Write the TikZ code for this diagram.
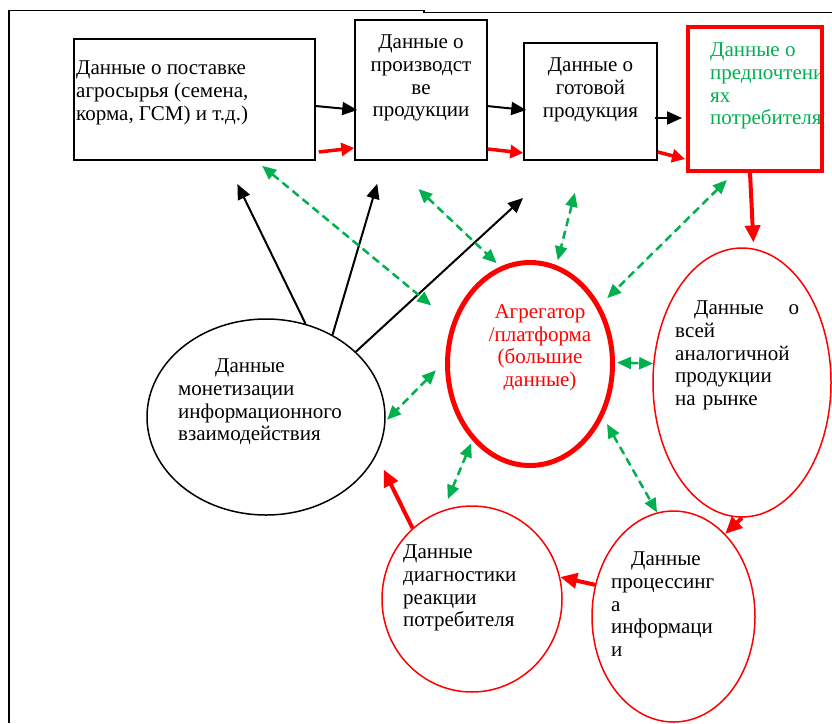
\documentclass[tikz,border=0pt]{standalone}
\usepackage{fontspec}
\setmainfont{Liberation Serif}
\usetikzlibrary{arrows.meta, positioning, shapes.geometric, calc}
\definecolor{wgreen}{RGB}{0,176,80}
\tikzset{
  databox/.style={draw, rectangle, line width=1.5pt, inner sep=0pt}, % black data boxes
  focusbox/.style={databox, draw=red, line width=4pt}, % box of the consumer
  dataell/.style={draw, ellipse, line width=1.5pt, inner sep=0pt}, % thin ellipses
  hubell/.style={dataell, draw=red, line width=5pt}, % the platform
  txt/.style={inner sep=0pt, font=\fontsize{21}{22.6}\selectfont}, % texts of the scheme
  flowarr/.style={-{Triangle[length=15pt,width=13pt]}, line width=2pt}, % black arrows
  redarr/.style={-{Triangle[length=13pt,width=13pt]}, draw=red, fill=red, line width=3.5pt}, % small red arrows
  bigred/.style={-{Triangle[length=17pt,width=15pt]}, draw=red, fill=red, line width=4pt}, % big red arrows
  linkarr/.style={{Triangle[length=14pt,width=12pt]}-{Triangle[length=14pt,width=12pt]}, draw=wgreen, fill=wgreen, line width=2.5pt, dash pattern=on 8pt off 5pt}, % data exchange
}
\begin{document}
\begin{tikzpicture}[x=1pt, y=-1pt]
		\useasboundingbox (0,0) rectangle (832,723);
		\draw [line width=1.6pt] (9,723) -- (9,10.5) -- (424,10.5) -- (424,12.5) -- (832,12.5);

		% top row
		\node [databox, minimum width=241pt, minimum height=121pt] (supply) at (194.5,99.5) {};
		\node [databox, minimum width=132pt, minimum height=140pt] (prod) at (421,90) {};
		\node [databox, minimum width=133pt, minimum height=117pt] (ready) at (590.5,101.5) {};

		\node [txt, anchor=north west, align=left] (supplyt) at (76,61) {Данные о поставке\\агросырья (семена,\\корма, ГСМ) и т.д.)};
		\node [txt, anchor=north, align=center] (prodt) at (421,35) {Данные о\\производст\\ве\\продукции};
		\node [txt, anchor=north, align=center] (readyt) at (590.5,58) {Данные о\\готовой\\продукция};
		\begin{scope}
			\clip (688,27) rectangle (821,171);
			\node [txt, anchor=north west, align=left, text=wgreen] (preft) at (710,43) {Данные о\\предпочтени\\ях\\потребителя};
		\end{scope}
		\node [focusbox, minimum width=134pt, minimum height=144pt] (pref) at (755,99) {};

		% ellipses
		\node [dataell, minimum width=238pt, minimum height=196pt] (mon) at (266,417) {};
		\node [hubell, minimum width=165pt, minimum height=203pt] (hub) at (530,364) {};
		\node [dataell, draw=red, minimum width=178pt, minimum height=269pt] (mkt) at (742,382.5) {};
		\node [dataell, draw=red, minimum width=163pt, minimum height=211pt] (proc) at (673.5,616.5) {};
		\node [dataell, draw=red, minimum width=180pt, minimum height=186pt] (diag) at (472,599) {};

		\node [txt, anchor=north west, align=left] (mont) at (178,359) {\hspace*{37pt}Данные\\монетизации\\информационного\\взаимодействия};
		\node [txt, anchor=north, align=center, text=red] (hubt) at (540,304.5) {Агрегатор\\/платформа\\(большие\\данные)};
		\node [txt, anchor=north west, align=left, text width=124pt] (mktt) at (675,301) {\hspace*{19pt}Данные\hfill о\\всей\\аналогичной\\продукции\\на рынке};
		\node [txt, anchor=north west, align=left] (proct) at (611,552) {\hspace*{20pt}Данные\\процессинг\\а\\информаци\\и};
		\node [txt, anchor=north west, align=left] (diagt) at (403,545) {Данные\\диагностики\\реакции\\потребителя};

		% arrows of the chain
		\draw [flowarr] ([yshift=-6.5pt]supply.east) -- ([xshift=3pt, yshift=-20pt]prod.west);
		\draw [redarr] ([xshift=3pt, yshift=-52.5pt]supply.east) -- ([yshift=-58pt]prod.west);
		\draw [flowarr] ([xshift=-1pt, yshift=-16pt]prod.east) -- ([xshift=3pt, yshift=-8.5pt]ready.west);
		\draw [redarr] ([yshift=-59pt]prod.east) -- ([yshift=-51.5pt]ready.west);
		\draw [flowarr] ([xshift=-3pt, yshift=-16.5pt]ready.east) -- ([xshift=-4pt, yshift=-19pt]pref.west);
		\draw [redarr] ([yshift=-50.5pt]ready.east) -- ([xshift=-1pt, yshift=-60pt]pref.west);

		% monetization
		\draw [flowarr, shorten >=26pt] (mon.67) -- ([xshift=31.5pt]supply.south);
		\draw [flowarr, shorten >=24pt] (mon.51.4) -- ([xshift=-37pt]prod.south);
		\draw [flowarr, shorten >=55pt] (mon.36.9) -- ([xshift=-27pt]ready.south);

		% exchange with the platform
		\draw [linkarr, shorten <=8pt, shorten >=27pt] ([xshift=61.5pt]supply.south) -- (hub.152.5);
		\draw [linkarr, shorten <=41pt, shorten >=5pt] ([xshift=-32.4pt]prod.south) -- (hub.107.8);
		\draw [linkarr, shorten <=33pt, shorten >=5pt] ([xshift=-7.5pt]ready.south) -- (hub.75);
		\draw [linkarr, shorten <=10pt, shorten >=10pt] ([xshift=-21pt]pref.south) -- (hub.40.5);
		\draw [linkarr, shorten <=2pt] (hub.1) -- (mkt.168);
		\draw [linkarr, shorten <=13pt, shorten >=2pt] (hub.178) -- (mon.358);
		\draw [linkarr, shorten <=3pt, shorten >=12pt] (hub.233.3) -- (diag.108);
		\draw [linkarr, shorten <=8pt] (hub.324.3) -- (proc.99.6);

		% cycle of the consumer data
		\draw [bigred, shorten >=6pt] ([xshift=-5pt]pref.south) -- (mkt.85);
		\draw [bigred] (mkt.270) -- (proc.58);
		\draw [bigred] (proc.158) -- (diag.14);
		\draw [bigred, shorten >=16pt] (diag.130) -- (mon.341);
\end{tikzpicture}
\end{document}
